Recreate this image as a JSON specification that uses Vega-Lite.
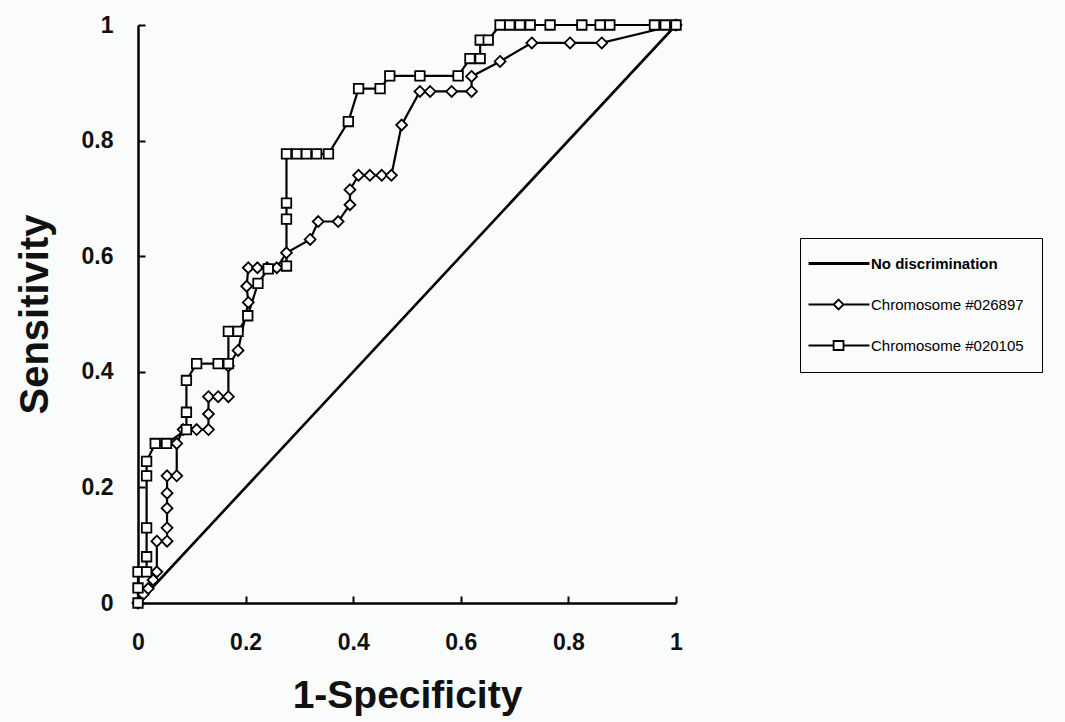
{
  "$schema": "https://vega.github.io/schema/vega-lite/v6.json",
  "width": 538,
  "height": 578,
  "autosize": {"type": "none"},
  "padding": {"left": 138, "top": 25, "right": 389, "bottom": 119},
  "background": "#fafbfb",
  "config": {"view": {"stroke": null}, "font": "Liberation Sans"},
  "data": {"values": [
    {"s": "No discrimination", "i": 0, "x": 0, "y": 0},
    {"s": "No discrimination", "i": 1, "x": 1, "y": 1},
    {"s": "Chromosome #026897", "i": 0, "x": 0, "y": 0},
    {"s": "Chromosome #026897", "i": 1, "x": 0.01, "y": 0.015},
    {"s": "Chromosome #026897", "i": 2, "x": 0.019, "y": 0.025},
    {"s": "Chromosome #026897", "i": 3, "x": 0.028, "y": 0.04},
    {"s": "Chromosome #026897", "i": 4, "x": 0.035, "y": 0.054},
    {"s": "Chromosome #026897", "i": 5, "x": 0.035, "y": 0.107},
    {"s": "Chromosome #026897", "i": 6, "x": 0.054, "y": 0.107},
    {"s": "Chromosome #026897", "i": 7, "x": 0.054, "y": 0.13},
    {"s": "Chromosome #026897", "i": 8, "x": 0.054, "y": 0.164},
    {"s": "Chromosome #026897", "i": 9, "x": 0.054, "y": 0.19},
    {"s": "Chromosome #026897", "i": 10, "x": 0.054, "y": 0.22},
    {"s": "Chromosome #026897", "i": 11, "x": 0.072, "y": 0.22},
    {"s": "Chromosome #026897", "i": 12, "x": 0.072, "y": 0.276},
    {"s": "Chromosome #026897", "i": 13, "x": 0.084, "y": 0.3},
    {"s": "Chromosome #026897", "i": 14, "x": 0.109, "y": 0.3},
    {"s": "Chromosome #026897", "i": 15, "x": 0.131, "y": 0.3},
    {"s": "Chromosome #026897", "i": 16, "x": 0.131, "y": 0.327},
    {"s": "Chromosome #026897", "i": 17, "x": 0.131, "y": 0.357},
    {"s": "Chromosome #026897", "i": 18, "x": 0.149, "y": 0.357},
    {"s": "Chromosome #026897", "i": 19, "x": 0.168, "y": 0.357},
    {"s": "Chromosome #026897", "i": 20, "x": 0.168, "y": 0.41},
    {"s": "Chromosome #026897", "i": 21, "x": 0.186, "y": 0.437},
    {"s": "Chromosome #026897", "i": 22, "x": 0.205, "y": 0.52},
    {"s": "Chromosome #026897", "i": 23, "x": 0.202, "y": 0.548},
    {"s": "Chromosome #026897", "i": 24, "x": 0.205, "y": 0.58},
    {"s": "Chromosome #026897", "i": 25, "x": 0.222, "y": 0.58},
    {"s": "Chromosome #026897", "i": 26, "x": 0.24, "y": 0.58},
    {"s": "Chromosome #026897", "i": 27, "x": 0.258, "y": 0.58},
    {"s": "Chromosome #026897", "i": 28, "x": 0.276, "y": 0.606},
    {"s": "Chromosome #026897", "i": 29, "x": 0.32, "y": 0.629},
    {"s": "Chromosome #026897", "i": 30, "x": 0.335, "y": 0.66},
    {"s": "Chromosome #026897", "i": 31, "x": 0.372, "y": 0.66},
    {"s": "Chromosome #026897", "i": 32, "x": 0.394, "y": 0.689},
    {"s": "Chromosome #026897", "i": 33, "x": 0.394, "y": 0.715},
    {"s": "Chromosome #026897", "i": 34, "x": 0.41, "y": 0.74},
    {"s": "Chromosome #026897", "i": 35, "x": 0.431, "y": 0.74},
    {"s": "Chromosome #026897", "i": 36, "x": 0.453, "y": 0.74},
    {"s": "Chromosome #026897", "i": 37, "x": 0.471, "y": 0.74},
    {"s": "Chromosome #026897", "i": 38, "x": 0.49, "y": 0.827},
    {"s": "Chromosome #026897", "i": 39, "x": 0.524, "y": 0.885},
    {"s": "Chromosome #026897", "i": 40, "x": 0.543, "y": 0.885},
    {"s": "Chromosome #026897", "i": 41, "x": 0.583, "y": 0.885},
    {"s": "Chromosome #026897", "i": 42, "x": 0.62, "y": 0.885},
    {"s": "Chromosome #026897", "i": 43, "x": 0.62, "y": 0.911},
    {"s": "Chromosome #026897", "i": 44, "x": 0.673, "y": 0.937},
    {"s": "Chromosome #026897", "i": 45, "x": 0.732, "y": 0.969},
    {"s": "Chromosome #026897", "i": 46, "x": 0.803, "y": 0.969},
    {"s": "Chromosome #026897", "i": 47, "x": 0.862, "y": 0.969},
    {"s": "Chromosome #026897", "i": 48, "x": 1, "y": 1},
    {"s": "Chromosome #020105", "i": 0, "x": 0, "y": 0},
    {"s": "Chromosome #020105", "i": 1, "x": 0, "y": 0.026},
    {"s": "Chromosome #020105", "i": 2, "x": 0, "y": 0.054},
    {"s": "Chromosome #020105", "i": 3, "x": 0.016, "y": 0.054},
    {"s": "Chromosome #020105", "i": 4, "x": 0.016, "y": 0.08},
    {"s": "Chromosome #020105", "i": 5, "x": 0.016, "y": 0.13},
    {"s": "Chromosome #020105", "i": 6, "x": 0.016, "y": 0.22},
    {"s": "Chromosome #020105", "i": 7, "x": 0.016, "y": 0.245},
    {"s": "Chromosome #020105", "i": 8, "x": 0.032, "y": 0.276},
    {"s": "Chromosome #020105", "i": 9, "x": 0.053, "y": 0.276},
    {"s": "Chromosome #020105", "i": 10, "x": 0.09, "y": 0.3},
    {"s": "Chromosome #020105", "i": 11, "x": 0.09, "y": 0.33},
    {"s": "Chromosome #020105", "i": 12, "x": 0.09, "y": 0.385},
    {"s": "Chromosome #020105", "i": 13, "x": 0.109, "y": 0.414},
    {"s": "Chromosome #020105", "i": 14, "x": 0.149, "y": 0.414},
    {"s": "Chromosome #020105", "i": 15, "x": 0.168, "y": 0.414},
    {"s": "Chromosome #020105", "i": 16, "x": 0.168, "y": 0.47},
    {"s": "Chromosome #020105", "i": 17, "x": 0.186, "y": 0.47},
    {"s": "Chromosome #020105", "i": 18, "x": 0.204, "y": 0.497},
    {"s": "Chromosome #020105", "i": 19, "x": 0.223, "y": 0.553},
    {"s": "Chromosome #020105", "i": 20, "x": 0.242, "y": 0.578},
    {"s": "Chromosome #020105", "i": 21, "x": 0.276, "y": 0.583},
    {"s": "Chromosome #020105", "i": 22, "x": 0.276, "y": 0.664},
    {"s": "Chromosome #020105", "i": 23, "x": 0.276, "y": 0.692},
    {"s": "Chromosome #020105", "i": 24, "x": 0.276, "y": 0.777},
    {"s": "Chromosome #020105", "i": 25, "x": 0.295, "y": 0.777},
    {"s": "Chromosome #020105", "i": 26, "x": 0.313, "y": 0.777},
    {"s": "Chromosome #020105", "i": 27, "x": 0.332, "y": 0.777},
    {"s": "Chromosome #020105", "i": 28, "x": 0.354, "y": 0.777},
    {"s": "Chromosome #020105", "i": 29, "x": 0.391, "y": 0.833},
    {"s": "Chromosome #020105", "i": 30, "x": 0.41, "y": 0.89},
    {"s": "Chromosome #020105", "i": 31, "x": 0.45, "y": 0.89},
    {"s": "Chromosome #020105", "i": 32, "x": 0.468, "y": 0.912},
    {"s": "Chromosome #020105", "i": 33, "x": 0.524, "y": 0.912},
    {"s": "Chromosome #020105", "i": 34, "x": 0.595, "y": 0.912},
    {"s": "Chromosome #020105", "i": 35, "x": 0.617, "y": 0.942},
    {"s": "Chromosome #020105", "i": 36, "x": 0.636, "y": 0.942},
    {"s": "Chromosome #020105", "i": 37, "x": 0.636, "y": 0.974},
    {"s": "Chromosome #020105", "i": 38, "x": 0.651, "y": 0.974},
    {"s": "Chromosome #020105", "i": 39, "x": 0.673, "y": 1},
    {"s": "Chromosome #020105", "i": 40, "x": 0.691, "y": 1},
    {"s": "Chromosome #020105", "i": 41, "x": 0.71, "y": 1},
    {"s": "Chromosome #020105", "i": 42, "x": 0.729, "y": 1},
    {"s": "Chromosome #020105", "i": 43, "x": 0.766, "y": 1},
    {"s": "Chromosome #020105", "i": 44, "x": 0.825, "y": 1},
    {"s": "Chromosome #020105", "i": 45, "x": 0.859, "y": 1},
    {"s": "Chromosome #020105", "i": 46, "x": 0.877, "y": 1},
    {"s": "Chromosome #020105", "i": 47, "x": 0.96, "y": 1},
    {"s": "Chromosome #020105", "i": 48, "x": 0.98, "y": 1},
    {"s": "Chromosome #020105", "i": 49, "x": 1, "y": 1}
  ]},
  "encoding": {
    "x": {"field": "x", "type": "quantitative",
      "scale": {"domain": [0, 1], "nice": false, "zero": false},
      "axis": {"title": "1-Specificity", "values": [0, 0.2, 0.4, 0.6, 0.8, 1], "format": "~g",
        "grid": false, "tickSize": -7, "tickWidth": 2, "tickColor": "black",
        "domainColor": "black", "domainWidth": 2.5,
        "labelFont": "Liberation Sans", "labelFontSize": 23, "labelFontWeight": "bold", "labelColor": "#111",
        "labelPadding": 35, "labelFlush": false,
        "titleFont": "Liberation Sans", "titleFontSize": 39, "titleFontWeight": "bold", "titleColor": "#111",
        "titlePadding": 22}},
    "y": {"field": "y", "type": "quantitative",
      "scale": {"domain": [0, 1], "nice": false, "zero": false},
      "axis": {"title": "Sensitivity", "values": [0, 0.2, 0.4, 0.6, 0.8, 1], "format": "~g",
        "grid": false, "tickSize": -7, "tickWidth": 2, "tickColor": "black",
        "domainColor": "black", "domainWidth": 2.5,
        "labelFont": "Liberation Sans", "labelFontSize": 23, "labelFontWeight": "bold", "labelColor": "#111",
        "labelPadding": 32, "labelFlush": false,
        "titleFont": "Liberation Sans", "titleFontSize": 40, "titleFontWeight": "bold", "titleColor": "#111",
        "titlePadding": 26}}
  },
  "layer": [
    {"transform": [{"filter": "datum.s === 'No discrimination'"}],
     "mark": {"type": "line", "color": "black", "strokeWidth": 2.6},
     "encoding": {"order": {"field": "i", "type": "quantitative"}}},
    {"transform": [{"filter": "datum.s !== 'No discrimination'"}],
     "mark": {"type": "line", "color": "black", "strokeWidth": 2.2},
     "encoding": {"detail": {"field": "s"}, "order": {"field": "i", "type": "quantitative"}}},
    {"transform": [{"filter": "datum.s !== 'No discrimination'"}],
     "mark": {"type": "point", "filled": true, "fill": "white", "stroke": "black", "strokeWidth": 1.8, "size": 90, "opacity": 1},
     "encoding": {"shape": {"field": "s", "type": "nominal",
       "scale": {"domain": ["Chromosome #026897", "Chromosome #020105"],
         "range": ["M0,-1.15L1.15,0L0,1.15L-1.15,0Z", "square"]},
       "legend": null}}},
    {"transform": [{"filter": "datum.x > 5"}],
     "mark": {"type": "point", "filled": false, "color": "black", "strokeWidth": 1.8},
     "encoding": {"shape": {"field": "s", "type": "nominal",
       "scale": {"domain": ["No discrimination", "Chromosome #026897", "Chromosome #020105"],
         "range": ["M-1.13,0H2.93",
                   "M-1.13,0H0.54M1.2,0H2.93M0.87,-0.33L1.2,0L0.87,0.33L0.54,0Z",
                   "M-1.13,0H0.54M1.2,0H2.93M0.54,-0.3H1.2V0.3H0.54Z"]},
       "legend": {"orient": "none", "legendX": 662, "legendY": 213, "title": null,
         "padding": 18, "strokeColor": "black",
         "symbolSize": 900, "symbolFillColor": "white", "symbolStrokeColor": "black",
         "symbolStrokeWidth": {"expr": "datum.value === 'No discrimination' ? 3 : 1.8"},
         "symbolOpacity": 1,
         "rowPadding": 23, "labelOffset": 38, "labelFontSize": 15, "labelFont": "Liberation Sans", "labelColor": "black", "labelLimit": 300,
         "labelFontWeight": {"expr": "datum.value === 'No discrimination' ? 'bold' : 'normal'"}}}}}
  ],
  "resolve": {"scale": {"shape": "independent"}}
}
